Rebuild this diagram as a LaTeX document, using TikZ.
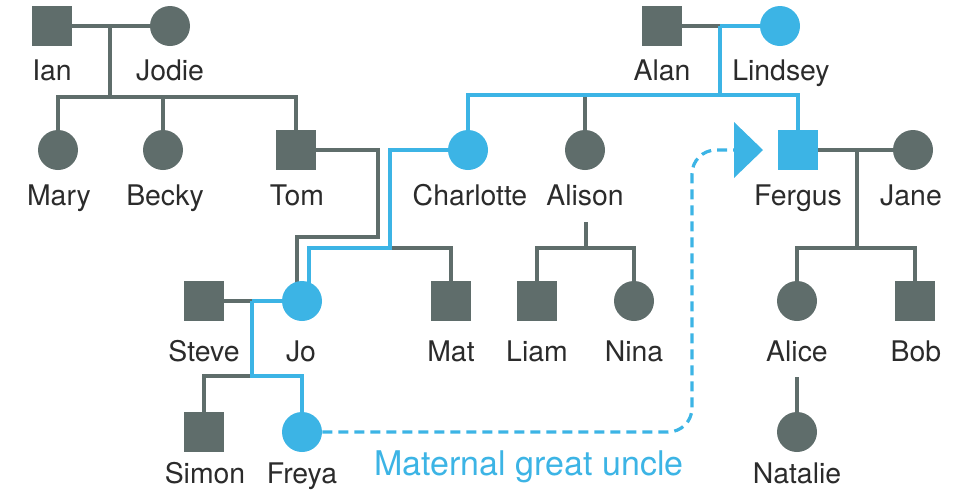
\documentclass[tikz,border=0pt]{standalone}
\usepackage{fontspec}
\setmainfont{TeX Gyre Heros}
\usetikzlibrary{backgrounds}
\definecolor{pg}{HTML}{5F6D6B}
\definecolor{pb}{HTML}{3CB4E5}
\definecolor{tx}{HTML}{2B2B2B}
\begin{document}
\begin{tikzpicture}[x=0.5pt,y=-0.5pt,
  male/.style={rectangle,minimum size=20pt,inner sep=0pt,fill=pg},
  female/.style={circle,minimum size=20pt,inner sep=0pt,fill=pg},
  hl/.style={fill=pb},
  nm/.style={anchor=base,text=tx,font=\fontsize{14.2}{14.2}\selectfont,inner sep=0pt},
  gl/.style={draw=pg,line width=1.7pt},
  bl/.style={draw=pb,line width=1.7pt},
  dl/.style={draw=pb,line width=1.6pt,dash pattern=on 5pt off 3pt,rounded corners=12pt},
]
\useasboundingbox (0,0) rectangle (960,489);
% people
\node[male] (ian) at (52,26) {};
\node[female] (jodie) at (170,26) {};
\node[female] (mary) at (58,150) {};
\node[female] (becky) at (163,150) {};
\node[male] (tom) at (296,150) {};
\node[female,hl] (charlotte) at (468,150) {};
\node[female] (alison) at (585,150) {};
\node[male] (alan) at (662,26) {};
\node[female,hl] (lindsey) at (780,26) {};
\node[male,hl] (fergus) at (798,150) {};
\node[female] (jane) at (913,150) {};
\node[male] (steve) at (204,301) {};
\node[female,hl] (jo) at (302,301) {};
\node[male] (mat) at (451,301) {};
\node[male] (liam) at (537,301) {};
\node[female] (nina) at (634,301) {};
\node[female] (alice) at (797,301) {};
\node[male] (bob) at (915,301) {};
\node[male] (simon) at (204,432) {};
\node[female,hl] (freya) at (302,432) {};
\node[female] (natalie) at (797,432) {};
% names
\node[nm] (lian) at (52,80) {Ian};
\node[nm] (ljodie) at (170,80) {Jodie};
\node[nm] (lalan) at (662,80) {Alan};
\node[nm] (llindsey) at (781,80) {Lindsey};
\node[nm] (lmary) at (59,205) {Mary};
\node[nm] (lbecky) at (165,205) {Becky};
\node[nm] (ltom) at (297,205) {Tom};
\node[nm] (lcharlotte) at (470,205) {Charlotte};
\node[nm] (lalison) at (585,205) {Alison};
\node[nm] (lfergus) at (798,205) {Fergus};
\node[nm] (ljane) at (911,205) {Jane};
\node[nm] (lsteve) at (204,361) {Steve};
\node[nm] (ljo) at (301,361) {Jo};
\node[nm] (lmat) at (451,361) {Mat};
\node[nm] (lliam) at (537,361) {Liam};
\node[nm] (lnina) at (634,361) {Nina};
\node[nm] (lalice) at (797,361) {Alice};
\node[nm] (lbob) at (916,361) {Bob};
\node[nm] (lsimon) at (205,483) {Simon};
\node[nm] (lfreya) at (302,483) {Freya};
\node[nm] (lnatalie) at (797,483) {Natalie};
\node[anchor=base,text=pb,inner sep=0pt,font=\fontsize{17}{17}\selectfont] (mgu) at (529,475) {Maternal great uncle};
% junction points
\coordinate (ij) at (110,26);
\coordinate (ijk) at (110,97);
\coordinate (t1) at (378,237);
\coordinate (t2) at (297,237);
\coordinate (c1) at (390,248);
\coordinate (c2) at (309,248);
\coordinate (al) at (720,26);
\coordinate (alk) at (720,95);
\coordinate (fj) at (857,150);
\coordinate (fjk) at (857,248);
\coordinate (as) at (586,222);
\coordinate (ask) at (586,248);
\coordinate (sj) at (252,301);
\coordinate (sjk) at (252,376);
\coordinate (an) at (797,377);
\coordinate (tip) at (734,150);
\begin{pgfonlayer}{background}
\draw[gl] (ian) -- (jodie);
\draw[gl] (ij) -- (ijk);
\draw[gl] (mary) |- (ijk) -| (tom);
\draw[gl] (becky) -- (becky |- ijk);
\draw[gl] (tom) -| (t1) -- (t2) -- (t2 |- jo);
\draw[gl] (c1) -| (mat);
\draw[bl] (charlotte) -| (c1) -- (c2) -- (c2 |- jo);
\draw[gl] (alan) -- (al);
\draw[gl] (alison) -- (alison |- alk);
\draw[bl] (al) -- (lindsey);
\draw[bl] (al) -- (alk);
\draw[bl] (charlotte) |- (alk) -| (fergus);
\draw[gl] (fergus) -- (jane);
\draw[gl] (fj) -- (fjk);
\draw[gl] (alice) |- (fjk) -| (bob);
\draw[gl] (as) -- (ask);
\draw[gl] (liam) |- (ask) -| (nina);
\draw[gl] (steve) -- (sj);
\draw[gl] (simon) |- (sjk);
\draw[bl] (sj) -- (jo);
\draw[bl] (sj) -- (sjk) -| (freya);
\draw[gl] (an) -- (natalie);
\end{pgfonlayer}
\draw[dl] (freya.east) -- (692,432) -- (692,150) -- (tip);
\fill[pb] (tip) ++(0,-28) -- ++(29,28) -- ++(-29,28) -- cycle;
\end{tikzpicture}
\end{document}
